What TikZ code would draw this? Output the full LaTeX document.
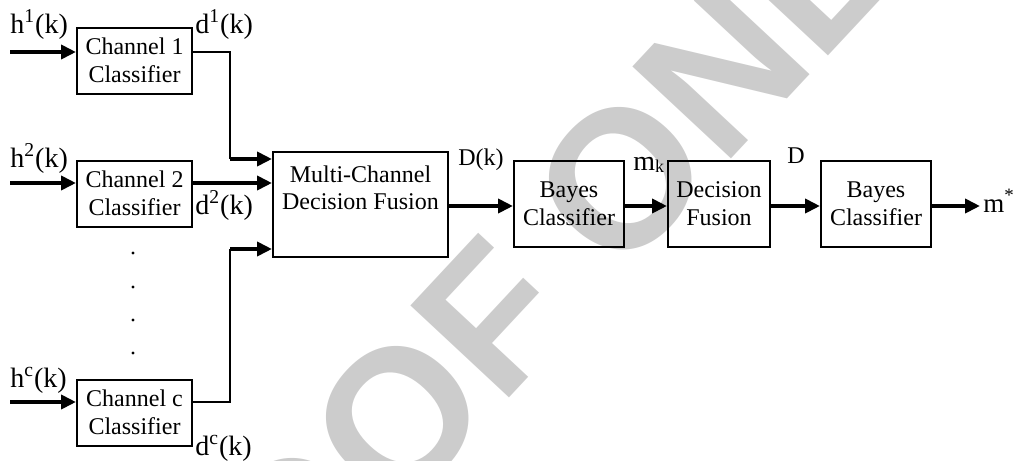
\documentclass[tikz,border=0pt]{standalone}
\usepackage{fontspec}
\setmainfont{Liberation Serif}
\newfontfamily\wmfont{Liberation Sans}
\usetikzlibrary{arrows.meta,calc}

\tikzset{
  blk/.style={draw, line width=1pt, inner sep=0pt, align=center,
              minimum width=57.5pt, minimum height=33pt,
              font=\fontsize{12}{14}\selectfont},
  sig/.style={line width=2pt, -{Triangle[length=7.5pt,width=7pt]}},
  wire/.style={line width=0.9pt},
  lbl/.style={inner sep=0pt, anchor=base west, font=\fontsize{14}{14}\selectfont},
  lblsm/.style={inner sep=0pt, anchor=base west, font=\fontsize{12}{12}\selectfont},
  wm/.style={inner sep=0pt, text=black!20, rotate=47,
             font=\wmfont\bfseries\fontsize{98}{98}\selectfont},
  ellip/.style={fill, circle, inner sep=0pt, minimum size=1.6pt},
}

\begin{document}
\begin{tikzpicture}[x=0.5pt, y=-0.5pt]
\useasboundingbox (0,0) rectangle (1014,461);

% background stamp
\begin{scope}
  \clip (0,0) rectangle (1014,461);
  \node[wm, anchor=base east] (wmA) at (500,408) {PROO};
  \node[wm, anchor=base west] (wmB) at (500,408) {F ONLY};
\end{scope}

% channel classifiers
\node[blk] (b1) at (134.5,60.5)  {Channel 1\\Classifier};
\node[blk] (b2) at (134.5,193.5) {Channel 2\\Classifier};
\node[blk] (bc) at (134.5,412.5) {Channel c\\Classifier};

% vertical ellipsis between channel 2 and channel c
\node[ellip] (e1) at (133,253) {};
\node[ellip] (e2) at (133,287) {};
\node[ellip] (e3) at (133,320) {};
\node[ellip] (e4) at (133,353) {};

% fusion and classification chain
\node[blk, minimum width=87.5pt, minimum height=52.5pt] (fus) at (360.5,204.5) {};
\node[inner sep=0pt, align=center, font=\fontsize{12}{13.5}\selectfont]
  (fustxt) at (360.5,188) {Multi-Channel\\Decision Fusion};
\node[blk, minimum width=55pt, minimum height=43pt] (bay1) at (569,204) {Bayes\\Classifier};
\node[blk, minimum width=51pt, minimum height=43pt] (df)   at (719,204) {Decision\\Fusion};
\node[blk, minimum width=55pt, minimum height=43pt] (bay2) at (876,204) {Bayes\\Classifier};

% inputs
\coordinate (in1) at (10,52);
\coordinate (in2) at (10,183);
\coordinate (inc) at (10,402);
\draw[sig] (in1) -- (in1 -| b1.west);
\draw[sig] (in2) -- (in2 -| b2.west);
\draw[sig] (inc) -- (inc -| bc.west);

% channel outputs into the fusion block
\coordinate (j1)  at (230,52);
\coordinate (j1b) at (230,159);
\coordinate (jc)  at (230,402);
\coordinate (jcb) at (230,249);
\draw[wire] (j1 -| b1.east) -- (j1) -- (j1b);
\draw[sig] (j1b) -- (j1b -| fus.west);
\draw[sig] (in2 -| b2.east) -- (in2 -| fus.west);
\draw[wire] (jc -| bc.east) -- (jc) -- (jcb);
\draw[sig] (jcb) -- (jcb -| fus.west);

% main chain
\coordinate (row) at (0,206);
\coordinate (out) at (980,206);
\draw[sig] (row -| fus.east)  -- (row -| bay1.west);
\draw[sig] (row -| bay1.east) -- (row -| df.west);
\draw[sig] (row -| df.east)   -- (row -| bay2.west);
\draw[sig] (row -| bay2.east) -- (out);

% signal labels
\node[lbl] (lh1) at (10,33)  {h\textsuperscript{1}(k)};
\node[lbl] (ld1) at (195,33) {d\textsuperscript{1}(k)};
\node[lbl] (lh2) at (10,167) {h\textsuperscript{2}(k)};
\node[lbl] (ld2) at (195,214) {d\textsuperscript{2}(k)};
\node[lbl] (lhc) at (10,387) {h\textsuperscript{c}(k)};
\node[lbl] (ldc) at (195,455) {d\textsuperscript{c}(k)};
\node[lblsm] (lD1) at (458,165) {D(k)};
\node[lbl] (lmk) at (633,170) {m\raisebox{-1pt}{\fontsize{9}{9}\selectfont k}};
\node[lblsm] (lD) at (787,163) {D};
\node[lbl, font=\fontsize{13.5}{13.5}\selectfont] (lms) at (983,212) {m\textsuperscript{*}};

\end{tikzpicture}
\end{document}
